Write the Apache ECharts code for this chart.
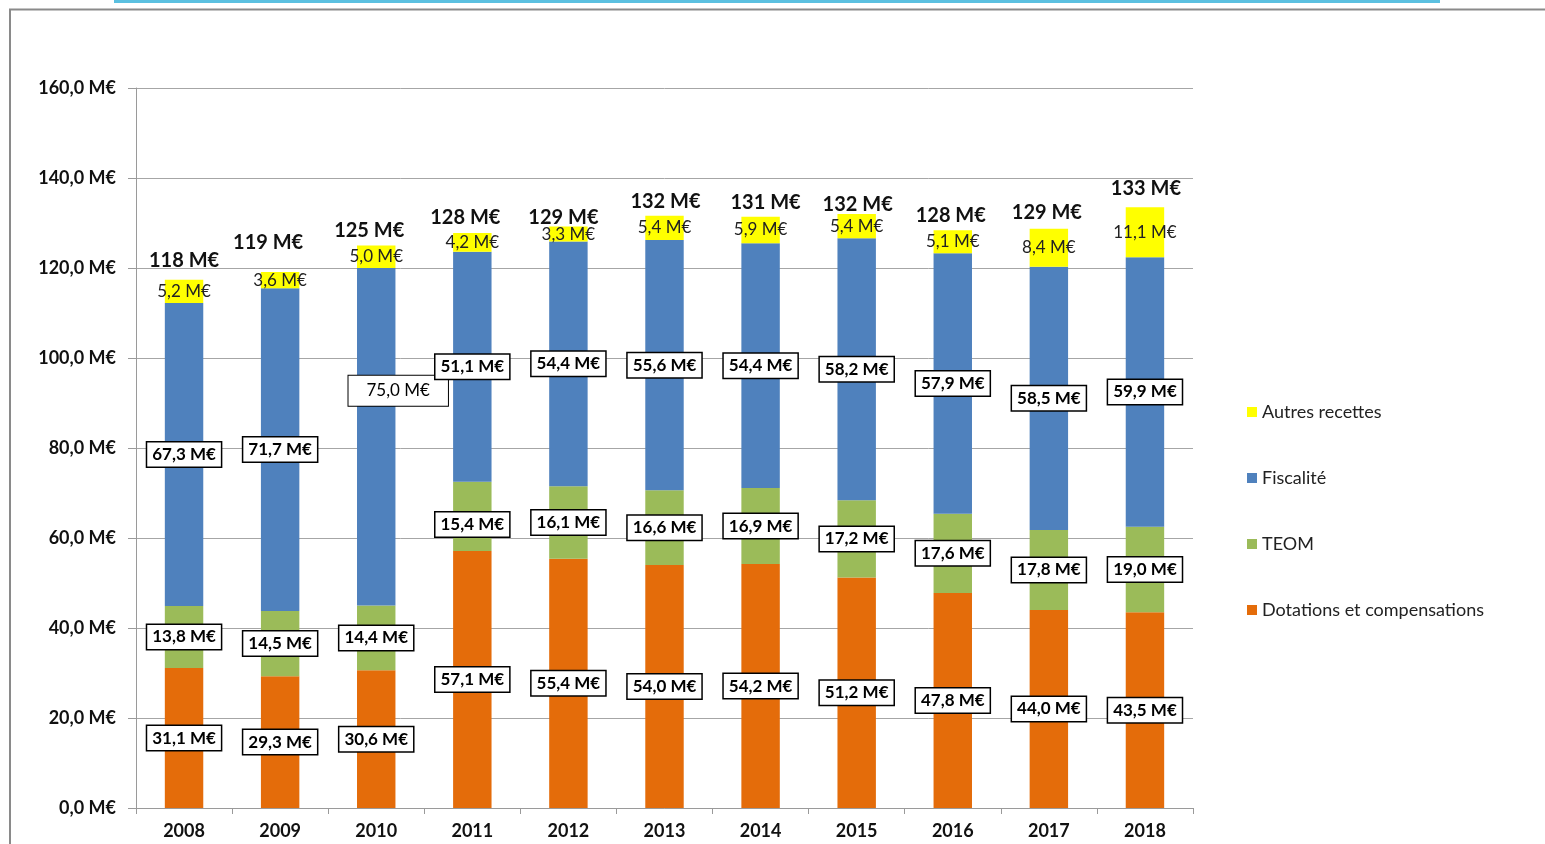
<!doctype html>
<html>

<head>
  <meta charset="utf-8">
  <title>Recettes</title>
  <script src="https://cdn.jsdelivr.net/npm/echarts@6/dist/echarts.min.js"></script>
  <style>
    html,
    body {
      width: 100%;
      height: 100%;
      background-color: #fff;
      padding: 0;
      margin: 0;
    }

    #main {
      width: 1545px;
      height: 844px;
    }
  </style>
</head>

<body>
  <div id="main"></div>
</body>

<script type="text/javascript">
  var years = ['2008', '2009', '2010', '2011', '2012', '2013', '2014', '2015', '2016', '2017', '2018'];
  var dotations = [31.1, 29.3, 30.6, 57.1, 55.4, 54.0, 54.2, 51.2, 47.8, 44.0, 43.5];
  var teom = [13.8, 14.5, 14.4, 15.4, 16.1, 16.6, 16.9, 17.2, 17.6, 17.8, 19.0];
  var fiscalite = [67.3, 71.7, 75.0, 51.1, 54.4, 55.6, 54.4, 58.2, 57.9, 58.5, 59.9];
  var autres = [5.2, 3.6, 5.0, 4.2, 3.3, 5.4, 5.9, 5.4, 5.1, 8.4, 11.1];
  var totals = [118, 119, 125, 128, 129, 132, 131, 132, 128, 129, 133];

  // décalages des étiquettes de total (placées à la main dans l'original)
  var totalOffsets = [[0, -8], [-12, -19], [-7, -4], [-7, -4], [-5, 2], [1, -3], [5, -3], [1, 2], [-2, -4], [-2, -5], [1, -8]];

  var font = 'Lato';

  function fmt(v) {
    return v.toFixed(1).replace('.', ',') + ' M€';
  }

  // étiquettes encadrées (style Excel)
  var boxLabel = {
    show: true,
    position: 'inside',
    formatter: function (p) { return fmt(p.value); },
    color: '#000',
    fontFamily: font,
    fontWeight: 'bold',
    fontSize: 17,
    backgroundColor: '#fff',
    borderColor: '#000',
    borderWidth: 1.5,
    padding: [4, 5, 3, 5]
  };

  // l'étiquette 2010 de la fiscalité a été déplacée à la main
  var fiscData = fiscalite.map(function (v, i) {
    if (i == 2) {
      return {
        value: v,
        label: { offset: [22, -46], fontWeight: 'normal', padding: [7, 18, 6, 18], borderWidth: 1 }
      };
    }
    return v;
  });
  var teomData = teom.map(function (v, i) {
    if (i == 3) return { value: v, label: { offset: [0, 8] } };
    return v;
  });
  var totalData = years.map(function (y, i) {
    return { value: 0, label: { offset: totalOffsets[i] } };
  });

  var option = {
    animation: false,
    graphic: [
      { type: 'rect', shape: { x: 114, y: 0, width: 1326, height: 3 }, style: { fill: '#5bc0e0' } },
      { type: 'polyline', shape: { points: [[10, 844], [10, 9.5], [1545, 9.5]] }, style: { stroke: '#8a8a8a', lineWidth: 2, fill: null } }
    ],
    grid: {
      left: 136,
      right: 352,
      top: 88,
      bottom: 36
    },
    legend: {
      orient: 'vertical',
      left: 1242,
      top: 398,
      itemWidth: 10,
      itemHeight: 10,
      itemGap: 48,
      icon: 'rect',
      data: ['Autres recettes', 'Fiscalité', 'TEOM', 'Dotations et compensations'],
      textStyle: { fontFamily: font, fontSize: 18, color: '#222' }
    },
    xAxis: {
      type: 'category',
      data: years,
      axisLine: { lineStyle: { color: '#9a9a9a' } },
      axisTick: { show: true, length: 6, lineStyle: { color: '#9a9a9a' } },
      axisLabel: { color: '#111', fontFamily: font, fontWeight: 'bold', fontSize: 18, margin: 14 }
    },
    yAxis: {
      type: 'value',
      min: 0,
      max: 160,
      interval: 20,
      axisLine: { show: true, lineStyle: { color: '#9a9a9a' } },
      axisTick: { show: true, length: 8, lineStyle: { color: '#9a9a9a' } },
      splitLine: { lineStyle: { color: '#a6a6a6' } },
      axisLabel: {
        color: '#111', fontFamily: font, fontWeight: 'bold', fontSize: 18, margin: 20,
        formatter: function (v) { return fmt(v); }
      }
    },
    series: [
      {
        name: 'Dotations et compensations',
        type: 'bar',
        stack: 'total',
        barWidth: '40%',
        itemStyle: { color: '#E46C0A' },
        label: boxLabel,
        data: dotations
      },
      {
        name: 'TEOM',
        type: 'bar',
        stack: 'total',
        itemStyle: { color: '#9BBB59' },
        label: boxLabel,
        data: teomData
      },
      {
        name: 'Fiscalité',
        type: 'bar',
        stack: 'total',
        itemStyle: { color: '#4F81BD' },
        label: boxLabel,
        data: fiscData
      },
      {
        name: 'Autres recettes',
        type: 'bar',
        stack: 'total',
        itemStyle: { color: '#FFFF00' },
        label: {
          show: true,
          position: 'inside',
          color: '#222',
          fontFamily: font,
          fontSize: 17,
          formatter: function (p) { return fmt(p.value); }
        },
        data: autres
      },
      {
        // total au-dessus des barres
        name: 'total',
        type: 'bar',
        stack: 'total',
        itemStyle: { color: 'transparent' },
        label: {
          show: true,
          position: 'top',
          distance: 1,
          color: '#111',
          fontFamily: font,
          fontWeight: 'bold',
          fontSize: 20,
          formatter: function (p) { return totals[p.dataIndex] + ' M€'; }
        },
        data: totalData
      }
    ]
  };

  var myChart = echarts.init(document.getElementById('main'));
  myChart.setOption(option);
</script>

</html>
